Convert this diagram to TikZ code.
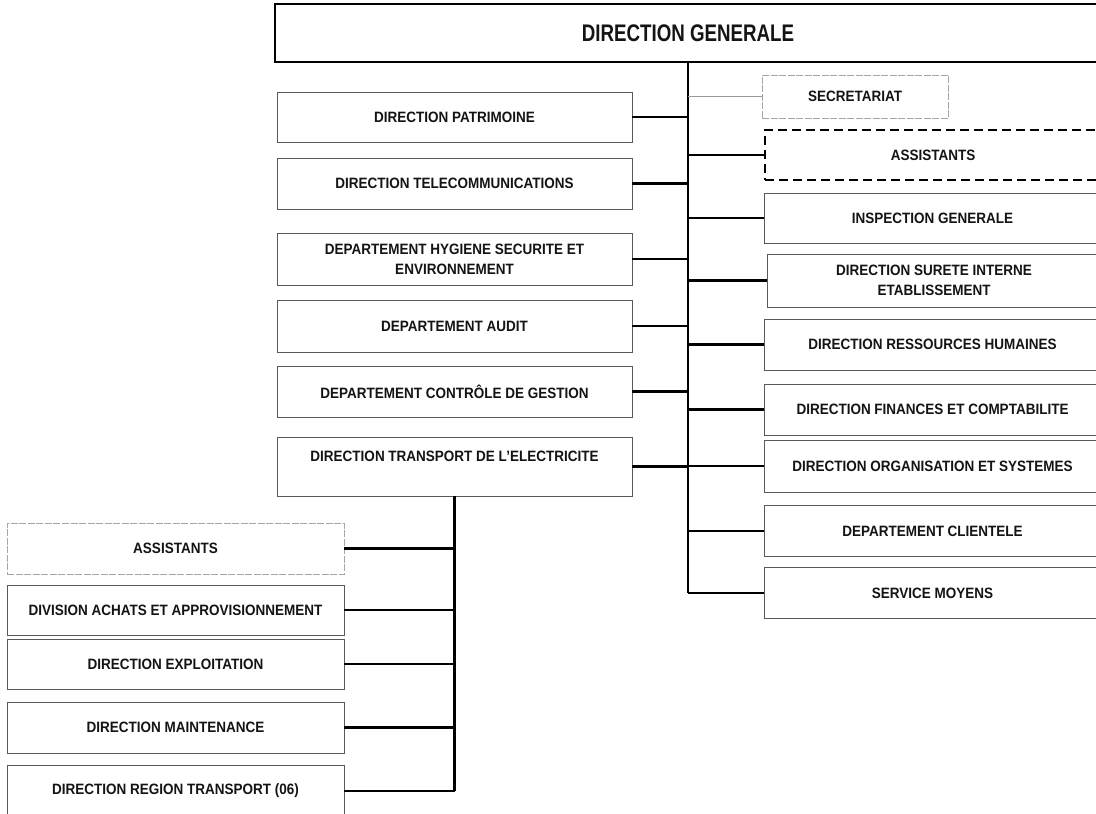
\documentclass[tikz,border=0pt]{standalone}
\usepackage{fontspec}
\setmainfont{Liberation Sans}[FakeStretch=0.9]
\newfontfamily\headfont{Liberation Sans}[FakeStretch=0.78]
\begin{document}
\begin{tikzpicture}[x=1pt,y=-1pt,
  box/.style={draw=black!65, line width=0.9pt, fill=white, inner sep=2pt, align=center,
    font=\bfseries\fontsize{15}{20}\selectfont, text=black!92},
  lbox/.style={box, minimum width=355pt},
  rbox/.style={box, minimum width=337pt},
  bbox/.style={box, minimum width=337pt},
  lightdash/.style={draw=black!35, dash pattern=on 7pt off 1.5pt},
  headbox/.style={draw=black, line width=2.8pt, fill=white, align=center,
    font=\headfont\bfseries\fontsize{24}{28}\selectfont, text=black!92},
  conn/.style={draw=black, line width=2.8pt},
  thinconn/.style={draw=black!40, line width=1.4pt}
]
\useasboundingbox (0,0) rectangle (1096,814);
\fill[white] (0,0) rectangle (1096,814);

% head
\node[headbox, minimum width=826pt, minimum height=58pt] (top) at (688,33) {DIRECTION GENERALE};

% left column
\node[lbox, minimum height=50pt] (pat) at (454.5,117) {DIRECTION PATRIMOINE};
\node[lbox, minimum height=51pt] (tel) at (454.5,183.5) {DIRECTION TELECOMMUNICATIONS};
\node[lbox, minimum height=52pt] (hyg) at (454.5,259) {DEPARTEMENT HYGIENE SECURITE ET\\ENVIRONNEMENT};
\node[lbox, minimum height=52pt] (aud) at (454.5,326) {DEPARTEMENT AUDIT};
\node[lbox, minimum height=51pt] (ctl) at (454.5,391.5) {DEPARTEMENT CONTRÔLE DE GESTION};
\node[lbox, minimum height=59pt, text depth=21pt] (trp) at (454.5,466.5) {DIRECTION TRANSPORT DE L’ELECTRICITE};

% right column
\node[box, lightdash, line width=0.9pt, minimum width=186pt, minimum height=43pt] (sec) at (855,96.5) {SECRETARIAT};
\node[box, draw=black, line width=2.6pt, dash pattern=on 9pt off 5pt, minimum width=336pt, minimum height=50pt] (ast) at (933,155) {ASSISTANTS};
\node[rbox, minimum height=50pt] (ins) at (932.5,218) {INSPECTION GENERALE};
\node[box, minimum width=334pt, minimum height=53pt] (sur) at (934,280.5) {DIRECTION SURETE INTERNE\\ETABLISSEMENT};
\node[rbox, minimum height=51pt] (drh) at (932.5,344.5) {DIRECTION RESSOURCES HUMAINES};
\node[rbox, minimum height=51pt] (fin) at (932.5,409.5) {DIRECTION FINANCES ET COMPTABILITE};
\node[rbox, minimum height=52pt] (org) at (932.5,466) {DIRECTION ORGANISATION ET SYSTEMES};
\node[rbox, minimum height=51pt] (cli) at (932.5,531) {DEPARTEMENT CLIENTELE};
\node[rbox, minimum height=51pt] (smo) at (932.5,593) {SERVICE MOYENS};

% bottom-left column
\node[bbox, lightdash, minimum height=51pt] (as2) at (175.5,548.5) {ASSISTANTS};
\node[bbox, minimum height=50pt] (ach) at (175.5,610) {DIVISION ACHATS ET APPROVISIONNEMENT};
\node[bbox, minimum height=50pt] (exp) at (175.5,664) {DIRECTION EXPLOITATION};
\node[bbox, minimum height=51pt] (mnt) at (175.5,727.5) {DIRECTION MAINTENANCE};
\node[bbox, minimum height=51pt] (reg) at (175.5,791) {DIRECTION REGION TRANSPORT (06)};

% main trunk
\draw[conn] (top.south) -- (top.south |- smo.west);
\foreach \n in {pat,tel,hyg,aud,ctl,trp}
  \draw[conn] (\n.east) -- (\n.east -| top.south);
\foreach \n in {ast,ins,sur,drh,fin,org,cli,smo}
  \draw[conn] (\n.west) -- (\n.west -| top.south);
\draw[thinconn] (sec.west) -- (sec.west -| top.south);

% transport sub-trunk
\draw[conn] (trp.south) -- (trp.south |- reg.east);
\foreach \n in {as2,ach,exp,mnt,reg}
  \draw[conn] (\n.east) -- (\n.east -| trp.south);
\end{tikzpicture}
\end{document}
